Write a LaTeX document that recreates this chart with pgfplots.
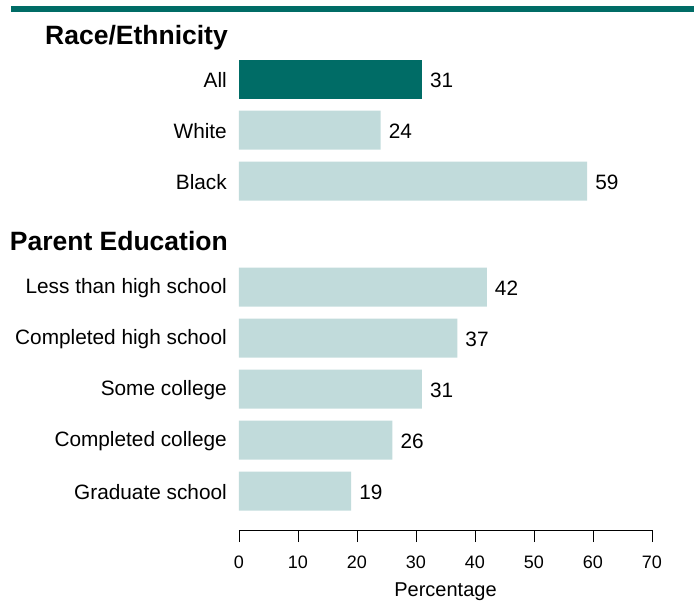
\documentclass[border=0pt]{standalone}
\usepackage{pgfplots}
\pgfplotsset{compat=1.18}
\usepackage{fontspec}
\setmainfont{Liberation Sans}
\definecolor{darkteal}{RGB}{0,108,102}
\definecolor{lightteal}{RGB}{193,219,219}
\begin{document}
\begin{tikzpicture}
\useasboundingbox (-239bp,-72bp) rectangle (455bp,530bp);
\draw[darkteal, line width=6bp] (-228bp,521bp) -- (455bp,521bp);
\begin{axis}[
  at={(0,0)}, anchor=south west,
  scale only axis, width=413bp, height=530bp,
  xmin=0, xmax=70, ymin=0, ymax=530,
  axis x line=bottom, axis y line=left,
  x axis line style={-, black, line width=0.8bp},
  y axis line style={draw=none},
  /pgf/number format/assume math mode=true,
  xtick={0,10,...,70},
  xtick pos=bottom,
  tick align=outside,
  major tick length=12bp,
  x tick style={black, line width=0.8bp},
  y tick style={draw=none},
  ytick={451,400,349,243,192,141,90,39},
  yticklabels={All,White,Black,Less than high school,Completed high school,Some college,Completed college,Graduate school},
  yticklabel style={font=\fontsize{20.8bp}{24bp}\selectfont, anchor=east, inner sep=0pt, xshift=0bp, yshift=-1bp},
  xticklabel style={font=\fontsize{18bp}{22bp}\selectfont, yshift=-10bp},
  xlabel={Percentage},
  xlabel style={font=\fontsize{20bp}{24bp}\selectfont, at={(rel axis cs:0.5,0)}, anchor=base, yshift=-66bp},
  point meta=x,
  nodes near coords,
  nodes near coords style={font=\fontsize{20.8bp}{24bp}\selectfont, anchor=west, inner sep=0pt, xshift=8bp, yshift=-1bp, black},
  clip=false,
]
\addplot[xbar, bar width=39, bar shift=0pt, fill=darkteal, draw=none] coordinates {(31,451)};
\addplot[xbar, bar width=39, bar shift=0pt, fill=lightteal, draw=none] coordinates {
(24,400) (59,349) (42,243) (37,192) (31,141) (26,90) (19,39)};
\end{axis}
\node[anchor=base east, inner sep=0pt, font=\bfseries\fontsize{26.5bp}{32bp}\selectfont] at (-11bp,485bp) {Race/Ethnicity};
\node[anchor=base east, inner sep=0pt, font=\bfseries\fontsize{26.5bp}{32bp}\selectfont] at (-11bp,279bp) {Parent Education};
\end{tikzpicture}
\end{document}
